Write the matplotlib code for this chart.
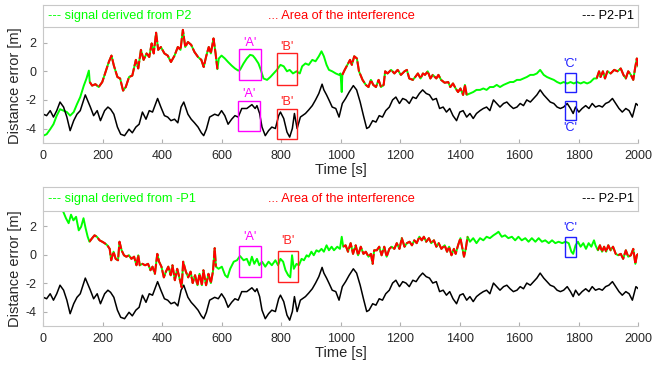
import matplotlib.pyplot as plt
from matplotlib.patches import Rectangle

plt.rcParams['font.family'] = ['Liberation Sans', 'DejaVu Sans']
plt.rcParams['axes.unicode_minus'] = False

# P2-P1 (same curve in both panels)
t_diff = [0, 11, 23, 34, 45, 56, 68, 79, 90, 102, 113, 124, 141, 149, 158, 169, 181, 192,
          206, 217, 226, 237, 249, 260, 273, 288, 299, 311, 322, 333, 345, 356, 367, 384,
          395, 407, 418, 429, 441, 452, 463, 472, 486, 497, 508, 520, 531, 539, 548, 559,
          576, 588, 599, 610, 621, 633, 644, 655, 667, 684, 701, 712, 718, 727, 735, 746,
          757, 768, 780, 791, 797, 808, 819, 828, 837, 844, 853, 864, 881, 892, 904, 915,
          926, 937, 943, 952, 960, 971, 983, 994, 1005, 1016, 1028, 1042, 1053, 1065, 1076,
          1087, 1095, 1107, 1118, 1129, 1140, 1151, 1163, 1174, 1185, 1197, 1208, 1219,
          1230, 1242, 1253, 1264, 1275, 1287, 1298, 1309, 1321, 1332, 1344, 1355, 1366,
          1377, 1389, 1400, 1411, 1423, 1434, 1445, 1456, 1468, 1479, 1490, 1501, 1513,
          1524, 1535, 1547, 1558, 1569, 1580, 1592, 1603, 1614, 1625, 1637, 1648, 1659,
          1670, 1682, 1693, 1704, 1716, 1727, 1738, 1749, 1761, 1772, 1781, 1789, 1800,
          1811, 1823, 1834, 1845, 1856, 1868, 1879, 1890, 1901, 1913, 1924, 1935, 1946,
          1958, 1969, 1980, 1992, 2000]
v_diff = [-3.0, -3.1, -2.75, -3.2, -2.75, -2.15, -2.5, -3.2, -4.15, -3.45, -3.0, -2.75,
          -1.65, -2.05, -2.5, -3.1, -2.75, -3.45, -2.75, -2.5, -2.65, -3.0, -3.9, -4.4,
          -4.5, -4.05, -4.3, -3.9, -3.7, -2.85, -3.35, -2.75, -2.85, -1.9, -2.5, -3.1,
          -3.2, -3.45, -3.35, -3.6, -2.5, -2.15, -3.0, -3.35, -3.6, -3.9, -4.3, -4.5,
          -4.05, -3.2, -3.0, -3.1, -2.75, -3.1, -3.7, -3.35, -3.1, -3.2, -2.6, -2.6,
          -2.33, -2.6, -2.4, -2.95, -3.9, -4.5, -4.15, -3.9, -4.0, -3.1, -2.85, -3.3,
          -4.25, -4.6, -4.0, -2.95, -4.0, -3.2, -2.95, -2.7, -2.4, -2.0, -1.55, -0.9,
          -1.3, -1.65, -2.0, -2.5, -2.6, -3.2, -2.25, -1.9, -1.45, -1.0, -1.3, -2.15,
          -3.1, -4.0, -3.9, -3.45, -3.55, -3.1, -3.2, -2.75, -2.5, -2.0, -1.8, -2.25,
          -1.9, -2.0, -2.25, -1.8, -1.9, -1.55, -1.3, -1.55, -1.65, -2.0, -1.9, -2.6,
          -2.5, -2.85, -2.6, -3.1, -3.45, -2.85, -2.75, -3.2, -2.95, -3.3, -2.95, -2.75,
          -2.6, -2.5, -2.75, -2.0, -2.25, -2.5, -2.25, -2.15, -2.4, -2.6, -2.5, -2.25,
          -2.4, -2.0, -2.15, -1.9, -1.65, -1.3, -1.65, -1.9, -2.15, -2.25, -2.5, -2.6,
          -2.5, -2.25, -2.6, -2.95, -2.5, -2.85, -2.6, -2.4, -2.6, -2.25, -2.5, -2.4,
          -2.5, -2.25, -2.15, -1.9, -2.25, -2.6, -2.85, -2.6, -2.75, -3.2, -2.25, -2.4]

# signal derived from P2
t_p2 = [0, 11, 23, 34, 45, 56, 68, 79, 90, 102, 113, 124, 136, 145, 153, 156, 164, 175,
        186, 198, 209, 220, 229, 237, 249, 258, 268, 277, 288, 299, 311, 319, 328, 337,
        347, 356, 364, 371, 379, 386, 395, 407, 418, 429, 441, 452, 461, 469, 477, 486,
        497, 508, 520, 531, 539, 548, 556, 563, 572, 579, 585, 590, 599, 610, 621, 633,
        644, 655, 661, 673, 684, 695, 704, 712, 723, 731, 740, 752, 763, 774, 785, 797,
        808, 819, 828, 839, 851, 862, 870, 881, 892, 904, 915, 926, 935, 943, 952, 960,
        971, 983, 994, 999, 1003, 1005, 1013, 1022, 1031, 1037, 1045, 1054, 1061, 1073,
        1084, 1093, 1101, 1109, 1118, 1127, 1135, 1144, 1149, 1157, 1169, 1180, 1191,
        1202, 1214, 1222, 1230, 1242, 1250, 1259, 1268, 1276, 1283, 1292, 1301, 1309,
        1321, 1328, 1337, 1349, 1361, 1368, 1377, 1386, 1394, 1402, 1411, 1417, 1423,
        1434, 1445, 1456, 1468, 1479, 1490, 1501, 1513, 1524, 1535, 1547, 1558, 1569,
        1580, 1592, 1603, 1614, 1625, 1637, 1648, 1659, 1670, 1682, 1693, 1704, 1716,
        1727, 1738, 1749, 1761, 1772, 1783, 1794, 1806, 1817, 1828, 1839, 1851, 1860,
        1868, 1873, 1881, 1888, 1896, 1907, 1919, 1930, 1941, 1950, 1958, 1966, 1975,
        1983, 1989, 1995, 2000]
v_p2 = [-4.5, -4.4, -4.05, -3.7, -3.1, -2.65, -2.75, -2.85, -3.1, -2.85, -2.3, -1.8,
        -1.0, -0.5, 0.05, -0.75, -1.0, -0.9, -1.1, -0.75, -0.05, 0.65, 1.1, 0.4, -0.4,
        -0.5, -1.35, -1.1, -0.4, -0.3, 0.8, 0.2, 1.5, 0.8, 1.25, 1.0, 1.95, 1.25, 2.7,
        1.5, 1.7, 1.25, 1.1, 0.65, 1.1, 1.7, 1.5, 2.9, 1.7, 2.05, 1.85, 1.35, 1.0, 0.8,
        0.3, 1.1, 1.7, 1.25, 2.3, 1.25, 0.15, 0.9, 1.1, 0.9, 0.65, 0.4, 0.2, 0.05, 0.1,
        0.55, 0.9, 1.15, 1.1, 0.9, 0.55, 0.1, -0.5, -0.6, -0.4, -0.15, 0.1, 0.45, 0.35,
        0.0, 0.1, -0.15, 0.0, -0.15, 0.35, 0.55, 0.45, 0.8, 0.7, 1.05, 1.4, 1.05, 0.45,
        0.1, 0.0, -0.15, -0.25, -0.15, -1.45, -0.25, 0.1, 0.45, 0.8, 0.45, 1.05, 0.9,
        0.0, -0.6, -0.95, -1.1, -0.6, -0.95, -1.1, -0.6, -1.1, -0.95, 0.0, -0.15, 0.1,
        -0.15, 0.1, -0.25, 0.0, 0.1, -0.5, -0.6, -0.4, -0.15, -0.5, -0.15, -0.25, 0.0,
        -0.5, -0.25, -0.5, -0.25, -0.6, -0.8, -0.75, -1.1, -0.85, -1.2, -1.45, -1.2,
        -1.65, -0.95, -1.65, -1.55, -1.45, -1.3, -1.3, -1.2, -1.3, -1.1, -1.1, -0.95,
        -1.1, -0.95, -0.85, -0.75, -0.75, -0.6, -0.6, -0.5, -0.4, -0.25, -0.25, -0.15,
        0.1, -0.25, -0.4, -0.5, -0.6, -0.75, -0.85, -0.75, -0.85, -0.75, -0.85, -0.75,
        -0.85, -0.75, -0.85, -0.75, -0.5, -0.5, 0.0, -0.4, 0.0, -0.5, 0.0, -0.15, 0.1,
        0.0, 0.2, -0.25, -0.5, 0.0, -0.25, -0.6, 0.2, 0.9, 0.35]

# signal derived from -P1
t_p1 = [60, 67, 76, 85, 93, 101, 110, 119, 127, 135, 142, 149, 155, 164, 172, 180, 189,
        198, 206, 215, 223, 228, 236, 243, 251, 256, 263, 271, 279, 288, 296, 305, 313,
        319, 324, 333, 342, 352, 360, 367, 375, 383, 389, 397, 405, 412, 420, 428, 434,
        442, 450, 457, 465, 470, 479, 487, 495, 502, 510, 518, 525, 533, 538, 547, 555,
        563, 570, 576, 580, 589, 600, 611, 619, 628, 640, 651, 661, 673, 684, 693, 701,
        709, 718, 726, 735, 746, 757, 768, 780, 789, 797, 806, 814, 823, 830, 836, 842,
        851, 859, 868, 876, 885, 892, 901, 909, 918, 926, 935, 943, 952, 960, 969, 977,
        988, 997, 1003, 1008, 1016, 1024, 1033, 1041, 1050, 1058, 1067, 1076, 1084, 1093,
        1101, 1107, 1112, 1121, 1129, 1137, 1146, 1154, 1163, 1171, 1180, 1188, 1197,
        1205, 1214, 1222, 1231, 1239, 1247, 1255, 1264, 1272, 1279, 1287, 1296, 1304,
        1313, 1321, 1329, 1338, 1349, 1357, 1364, 1372, 1380, 1386, 1394, 1402, 1409,
        1414, 1420, 1426, 1434, 1445, 1456, 1468, 1479, 1490, 1501, 1513, 1524, 1530,
        1541, 1552, 1563, 1575, 1586, 1597, 1608, 1620, 1631, 1642, 1654, 1665, 1676,
        1687, 1699, 1710, 1721, 1732, 1744, 1755, 1766, 1775, 1781, 1789, 1797, 1806,
        1815, 1824, 1833, 1842, 1851, 1856, 1864, 1871, 1878, 1885, 1892, 1899, 1907,
        1915, 1924, 1932, 1941, 1949, 1958, 1966, 1975, 1983, 1990, 1995, 2000]
v_p1 = [3.4, 3.0, 2.55, 2.2, 2.8, 2.4, 2.65, 1.7, 1.95, 2.55, 1.85, 1.25, 0.9, 1.15,
        1.35, 1.25, 1.0, 0.9, 0.8, 0.65, 0.4, -0.4, 0.2, -0.3, -0.4, 0.9, 0.3, -0.05,
        -0.15, -0.05, -0.3, -0.15, -0.75, -0.05, -0.75, -0.65, -0.75, -0.65, -1.1, -0.85,
        -1.35, 0.05, -0.5, -0.85, -1.6, -1.2, -0.85, -1.45, -0.75, -1.8, -1.0, -1.6,
        -2.3, -0.5, -1.2, -1.6, -1.2, -2.0, -1.45, -2.15, -1.35, -2.15, -1.1, -2.15,
        -1.35, -2.0, -1.2, 0.45, -0.85, -1.0, -0.85, -1.45, -1.6, -1.0, -0.5, -0.4,
        -0.1, -0.4, -0.3, -0.75, -0.15, -0.65, -0.3, -0.75, -0.5, -0.85, -0.5, -0.75,
        -0.4, -0.75, -0.3, -0.5, -1.1, -1.45, -1.6, -0.05, -1.0, -0.65, -0.75, -0.3,
        -0.4, -0.05, -0.15, 0.2, -0.05, 0.3, 0.2, 0.4, 0.2, 0.65, 0.3, 0.55, 0.3, 0.55,
        0.4, 1.25, 0.55, 0.65, 0.2, 0.8, 0.05, 0.65, -0.05, 0.55, 0.05, 0.2, -0.15, 0.05,
        -0.65, 0.3, 0.3, 0.55, -0.05, 0.55, -0.15, 0.4, 0.55, 0.4, 0.8, 0.4, 1.15, 0.55,
        0.8, 0.9, 0.65, 1.0, 0.8, 1.25, 1.0, 1.25, 0.9, 1.15, 0.8, 1.0, 0.55, 0.8, 0.4,
        0.65, 0.2, 0.55, -0.05, 0.4, 0.05, 0.65, 1.15, 0.4, -0.15, 0.4, 1.25, 0.9,
        1.15, 0.8, 1.15, 1.0, 1.25, 1.15, 1.35, 1.5, 1.6, 1.25, 1.35, 1.15, 1.25, 1.0,
        1.25, 1.0, 1.15, 0.9, 1.15, 0.9, 1.15, 0.9, 1.0, 0.8, 1.0, 0.8, 0.9, 0.8, 0.9,
        0.8, 0.2, 0.05, 0.65, 0.9, 0.55, 0.8, 0.4, 0.8, 0.55, 1.0, 0.65, 0.3, 0.65, 0.2,
        0.55, 0.2, 0.65, 0.3, 0.55, 0.05, -0.05, 0.05, -0.3, 0.3, -0.15, -0.05, 0.4,
        -0.65, -0.05, 0.05]

# interference intervals [s]
interf_p2 = [(155, 585), (1005, 1423), (1855, 2000)]
interf_p1 = [(155, 580), (1005, 1426), (1858, 2000)]

# marked regions: label, colour, x0, x1, y0, y1, label y
marks_top = [("'A'", '#ff00ff', 658, 731, -0.59, 1.53, 1.98),
             ("'A'", '#ff00ff', 655, 728, -4.16, -2.05, -1.62),
             ("'B'", '#ff2020', 786, 853, -0.94, 1.25, 1.72),
             ("'B'", '#ff2020', 786, 853, -4.75, -2.63, -2.17),
             ("'C'", '#2020ff', 1753, 1789, -1.46, -0.12, 0.54),
             ("'C'", '#2020ff', 1753, 1789, -3.39, -2.05, -3.93)]
marks_bot = [("'A'", '#ff00ff', 658, 731, -1.58, 0.59, 1.2),
             ("'B'", '#ff2020', 789, 857, -1.96, 0.25, 0.94),
             ("'C'", '#2020ff', 1753, 1791, -0.17, 1.2, 1.83)]

GREEN = '#00ff00'
RED = '#ff0000'


def draw_panel(ax, lax, t_sig, v_sig, interf, marks, sig_name):
    ax.plot(t_sig, v_sig, color=GREEN, lw=1.4, zorder=2)
    for a, b in interf:
        xs = [t for t in t_sig if a <= t <= b]
        ys = [v for t, v in zip(t_sig, v_sig) if a <= t <= b]
        ax.plot(xs, ys, color=RED, lw=1.5, ls=(0, (5, 1)), zorder=3)
    ax.plot(t_diff, v_diff, color='black', lw=1.1, zorder=2)

    for lab, c, x0, x1, y0, y1, ly in marks:
        ax.add_patch(Rectangle((x0, y0), x1 - x0, y1 - y0, fill=False, ec=c, lw=1.0, zorder=4))
        ax.text((x0 + x1) / 2, ly, lab, color=c, ha='center', va='center', fontsize=9)

    ax.set_xlim(0, 2000)
    ax.set_ylim(-5, 3)
    ax.set_xticks(range(0, 2001, 200))
    ax.set_yticks([-4, -2, 0, 2])
    ax.spines['top'].set_visible(False)
    ax.spines['right'].set_visible(False)
    for s in ('left', 'bottom'):
        ax.spines[s].set_color('#c8c8c8')
    ax.tick_params(direction='in', length=3, color='#b0b0b0', labelsize=9,
                   labelcolor='#262626', pad=5)
    ax.set_xlabel('Time [s]', fontsize=10.5, color='#262626', labelpad=1)
    ax.set_ylabel('Distance error [m]', fontsize=10.5, color='#262626')
    ax.yaxis.set_label_coords(-0.036, 0.5)

    # legend strip above the axes
    lax.set_xlim(0, 1)
    lax.set_ylim(0, 1)
    lax.set_xticks([])
    lax.set_yticks([])
    for s in lax.spines.values():
        s.set_color('#c8c8c8')
    lax.text(0.007, 0.5, '--- signal derived from ' + sig_name, color=GREEN,
             fontsize=9.2, va='center', ha='left')
    lax.text(0.378, 0.5, '... Area of the interference', color=RED,
             fontsize=9.2, va='center', ha='left')
    lax.text(0.992, 0.5, '--- P2-P1', color='black', fontsize=9.2, va='center', ha='right')


fig = plt.figure(figsize=(6.67, 3.69), dpi=100)
ax1 = fig.add_axes([0.065, 0.613, 0.892, 0.31])
lg1 = fig.add_axes([0.065, 0.927, 0.892, 0.060])
ax2 = fig.add_axes([0.065, 0.117, 0.892, 0.309])
lg2 = fig.add_axes([0.065, 0.429, 0.892, 0.064])

draw_panel(ax1, lg1, t_p2, v_p2, interf_p2, marks_top, 'P2')
draw_panel(ax2, lg2, t_p1, v_p1, interf_p1, marks_bot, '-P1')

fig.savefig('out.png', dpi=100)
